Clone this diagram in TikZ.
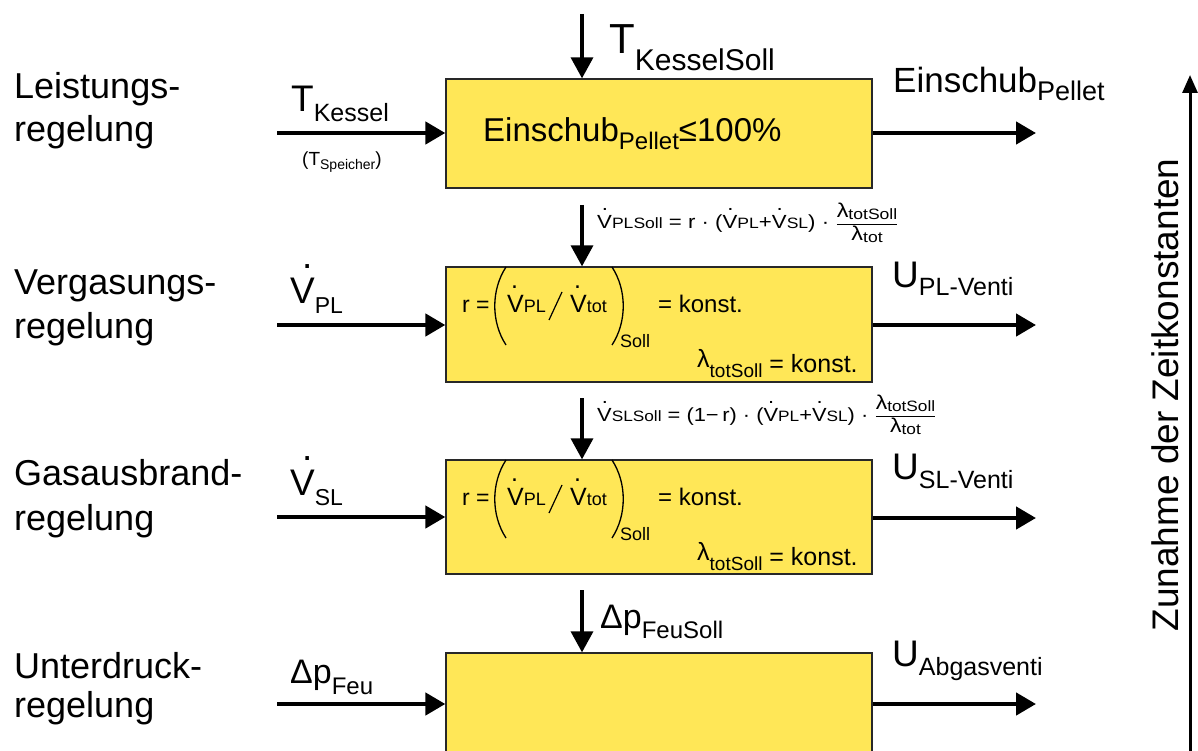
\documentclass[tikz,border=0pt]{standalone}
\usepackage{fontspec}
\setmainfont{Liberation Sans}
\usetikzlibrary{arrows.meta}
\definecolor{boxyellow}{RGB}{255,231,87}
\definecolor{boxline}{RGB}{40,40,40}
\newcommand{\fs}[1]{\fontsize{#1}{#1}\selectfont}
\newcommand{\lo}[3]{\raisebox{-#1pt}{\fs{#2}#3}}
\newcommand{\Vdot}[2]{\leavevmode\rlap{\kern#1pt\raisebox{#2pt}{.}}V}
\newcommand{\lamfrac}{$\displaystyle\frac{\hbox{\fs{20}λ\lo{2}{15}{totSoll}}}{\hbox{\fs{20}λ\lo{2}{15}{tot}}}$}
\newcommand{\ratiocontent}[2]{%
  \node[txt] (#2r) at (462,312+#1) {\fs{23}r = };
  \draw[paren] (506,267+#1) .. controls (491,290+#1) and (491,322+#1) .. (506,345+#1);
  \node[txt] (#2a) at (507,312+#1) {\fs{25}\Vdot{4}{24}\lo{0}{18}{PL}};
  \draw[line width=1.2pt] (549,320+#1) -- (562,292+#1);
  \node[txt] (#2b) at (570,312+#1) {\fs{25}\Vdot{4}{24}\lo{0}{18}{tot}};
  \draw[paren] (612,267+#1) .. controls (627,290+#1) and (627,322+#1) .. (612,345+#1);
  \node[txt] (#2s) at (620,347+#1) {\fs{18}Soll};
  \node[txt] (#2k) at (658,312+#1) {\fs{24}= konst.};
  \node[txt] (#2l) at (697,372+#1) {\fs{25}\raisebox{5pt}{λ}\lo{5}{19}{totSoll} = konst.};
}
\begin{document}
\begin{tikzpicture}[x=1pt,y=-1pt,
  blk/.style={draw=boxline, line width=1.3pt, fill=boxyellow, minimum width=426pt, inner sep=0pt},
  harr/.style={line width=4.5pt, -{Triangle[length=20pt,width=22pt]}},
  varr/.style={line width=3.5pt, -{Triangle[length=21pt,width=22pt]}},
  txt/.style={anchor=base west, inner sep=0pt, text=black},
  paren/.style={line width=1.3pt}
]
\useasboundingbox (0,0) rectangle (1198,751);
\clip (0,0) rectangle (1198,751);

% boxes
\node[blk, minimum height=109pt] (b1) at (659,133.5) {};
\node[blk, minimum height=115pt] (b2) at (659,324.5) {};
\node[blk, minimum height=114pt] (b3) at (659,517) {};
\node[blk, minimum height=200pt] (b4) at (659,753) {};

% left labels
\node[txt, font=\fs{36}] (l1a) at (14,99) {Leistungs-};
\node[txt, font=\fs{36}] (l1b) at (14,142) {regelung};
\node[txt, font=\fs{36}] (l2a) at (14,294) {Vergasungs-};
\node[txt, font=\fs{36}] (l2b) at (14,338) {regelung};
\node[txt, font=\fs{36}] (l3a) at (14,485) {Gasausbrand-};
\node[txt, font=\fs{36}] (l3b) at (14,530) {regelung};
\node[txt, font=\fs{36}] (l4a) at (14,678) {Unterdruck-};
\node[txt, font=\fs{36}] (l4b) at (14,717) {regelung};

% input arrows
\coordinate (i1) at (277,133);
\coordinate (i2) at (277,325);
\coordinate (i3) at (277,517);
\coordinate (i4) at (277,704);
\draw[harr] (i1) -- (i1 -| b1.west);
\draw[harr] (i2) -- (i2 -| b2.west);
\draw[harr] (i3) -- (i3 -| b3.west);
\draw[harr] (i4) -- (i4 -| b4.west);

% output arrows
\coordinate (o1) at (1036,133);
\coordinate (o2) at (1036,325);
\coordinate (o3) at (1036,518);
\coordinate (o4) at (1036,704);
\draw[harr] (o1 -| b1.east) -- (o1);
\draw[harr] (o2 -| b2.east) -- (o2);
\draw[harr] (o3 -| b3.east) -- (o3);
\draw[harr] (o4 -| b4.east) -- (o4);

% top arrows
\coordinate (s1) at (582,14);
\coordinate (s2) at (582,205);
\coordinate (s3) at (582,398);
\coordinate (s4) at (582,590);
\draw[varr] (s1) -- (s1 |- b1.north);
\draw[varr] (s2) -- (s2 |- b2.north);
\draw[varr] (s3) -- (s3 |- b3.north);
\draw[varr] (s4) -- (s4 |- b4.north);

% labels on arrows
\node[txt] (tks) at (609,54) {\fs{42}T\lo{17}{30}{KesselSoll}};
\node[txt] (tk) at (291,112) {\fs{37}T\lo{10}{25}{Kessel}};
\node[txt] (tsp) at (302,166) {\fs{19}(T\lo{4}{14}{Speicher})};
\node[txt] (eo) at (893,93) {\fs{35}Einschub\lo{8}{27}{Pellet}};
\node[txt] (ei) at (483,142) {\fs{33}Einschub\lo{8}{24}{Pellet}≤100\%};
\node[txt] (vpl) at (290,303) {\fs{37}\Vdot{12}{35}\lo{10}{23}{PL}};
\node[txt] (vsl) at (290,495) {\fs{37}\Vdot{12}{35}\lo{10}{23}{SL}};
\node[txt] (dpf) at (290,683) {\fs{34}Δp\lo{11}{24}{Feu}};
\node[txt] (dps) at (600,628) {\fs{34}Δp\lo{10}{24}{FeuSoll}};
\node[txt] (upl) at (892,287) {\fs{37}U\lo{9}{25}{PL-Venti}};
\node[txt] (usl) at (892,479) {\fs{37}U\lo{9}{25}{SL-Venti}};
\node[txt] (uab) at (892,666) {\fs{37}U\lo{9}{25}{Abgasventi}};

% equations above boxes
\node[txt] (eq1) at (597,229) {\scalebox{1.17}[1]{\fs{19}\Vdot{4}{18}\lo{0}{15}{PLSoll} = r · (\Vdot{4}{18}\lo{0}{15}{PL}+\Vdot{4}{18}\lo{0}{15}{SL}) · \lamfrac}};
\node[txt] (eq2) at (597,421) {\scalebox{1.15}[1]{\fs{19}\Vdot{4}{18}\lo{0}{15}{SLSoll} = (1−\,r) · (\Vdot{4}{18}\lo{0}{15}{PL}+\Vdot{4}{18}\lo{0}{15}{SL}) · \lamfrac}};

% box contents
\ratiocontent{0}{m2}
\ratiocontent{193}{m3}

% time constant arrow
\coordinate (zb) at (1190,760);
\coordinate (zt) at (1190,75);
\draw[line width=3pt, -{Triangle[length=18pt,width=15pt]}] (zb) -- (zt);
\node[rotate=90, font=\fs{37}, inner sep=0pt] (zk) at (1165,395) {Zunahme der Zeitkonstanten};
\end{tikzpicture}
\end{document}
